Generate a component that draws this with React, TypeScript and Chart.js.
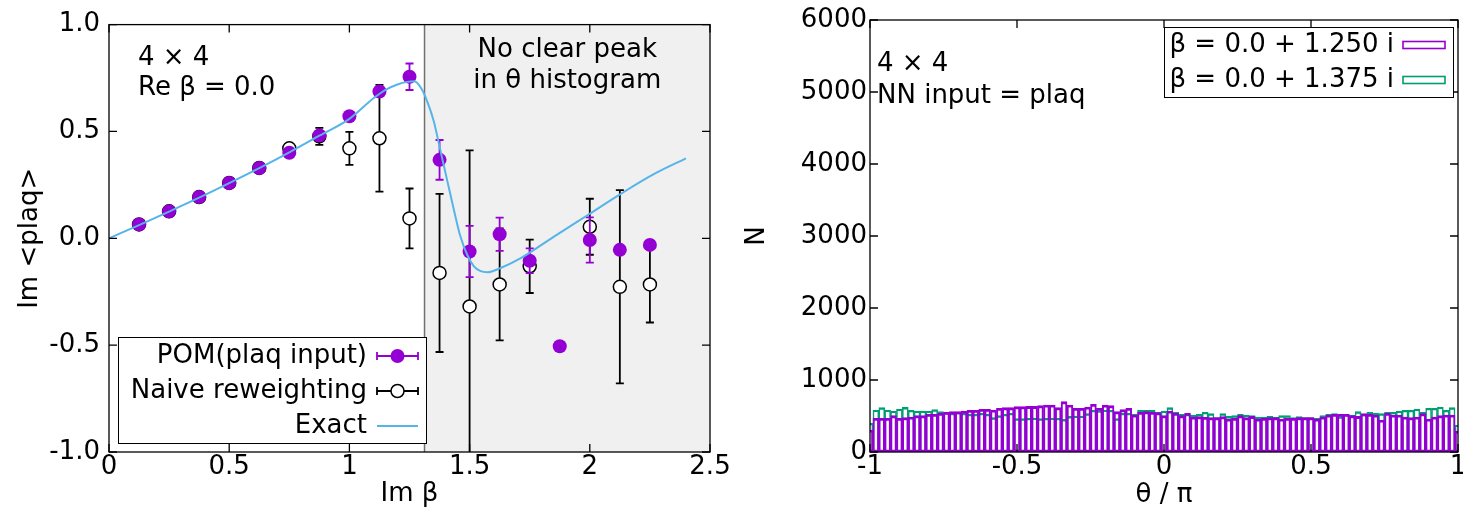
import React, { useEffect, useRef } from 'react';
import { Chart, registerables } from 'chart.js';

Chart.register(...registerables);

const FONT = '"DejaVu Sans", "Liberation Sans", sans-serif';
const FS = 26;
const PURPLE = '#9400d3';
const GREEN = '#009e73';
const BLUE = '#56b4e9';
const CANVAS_W = 1500;
const CANVAS_H = 516;

// ---------- left panel data ----------
const pomBeta = [0.125, 0.25, 0.375, 0.5, 0.625, 0.75, 0.875, 1.0, 1.125, 1.25, 1.375, 1.5, 1.625, 1.75, 1.875, 2.0, 2.125, 2.25];
const pomValues = [0.065, 0.126, 0.193, 0.259, 0.329, 0.4, 0.481, 0.571, 0.687, 0.756, 0.367, -0.062, 0.019, -0.105, -0.505, -0.008, -0.054, -0.031];
const pomErrors = [0, 0, 0, 0, 0, 0.008, 0.01, 0.01, 0.015, 0.062, 0.093, 0.12, 0.078, 0.058, 0, 0.106, 0, 0];

const naiveBeta = [0.125, 0.25, 0.375, 0.5, 0.625, 0.75, 0.875, 1.0, 1.125, 1.25, 1.375, 1.5, 1.625, 1.75, 2.0, 2.125, 2.25];
const naiveValues = [0.065, 0.126, 0.193, 0.259, 0.329, 0.421, 0.477, 0.421, 0.468, 0.093, -0.162, -0.319, -0.216, -0.131, 0.054, -0.227, -0.216];
const naiveErrors = [0.004, 0.004, 0.005, 0.005, 0.007, 0.012, 0.04, 0.077, 0.25, 0.14, 0.37, 0.73, 0.262, 0.125, 0.131, 0.452, 0.178];

const exactBeta = [0, 0.125, 0.25, 0.375, 0.5, 0.625, 0.75, 0.875, 1.0, 1.1, 1.15, 1.2, 1.24, 1.27, 1.3, 1.324, 1.351, 1.379, 1.407, 1.435, 1.462, 1.49, 1.518, 1.546, 1.574, 1.629, 1.713, 1.851, 1.99, 2.129, 2.268, 2.4];
const exactValues = [0, 0.062, 0.125, 0.19, 0.258, 0.328, 0.402, 0.48, 0.559, 0.655, 0.695, 0.72, 0.732, 0.735, 0.7, 0.64, 0.548, 0.409, 0.27, 0.131, 0.008, -0.077, -0.131, -0.154, -0.159, -0.139, -0.093, 0.008, 0.108, 0.208, 0.301, 0.374];

const noPeakStart = 1.3125;
const leftXTicks = ['0', '0.5', '1', '1.5', '2', '2.5'];
const leftLegend = ['POM(plaq input)', 'Naive reweighting', 'Exact'];
const leftNotes = ['4 \u00d7 4', 'Re \u03b2 = 0.0'];
const shadeNotes = ['No clear peak', 'in \u03b8 histogram'];
const leftXTitle = 'Im \u03b2';
const leftYTitle = 'Im <plaq>';

// ---------- right panel data ----------
const thetaBins = [
  -1, -0.98, -0.96, -0.94, -0.92, -0.9, -0.88, -0.86, -0.84, -0.82,
  -0.8, -0.78, -0.76, -0.74, -0.72, -0.7, -0.68, -0.66, -0.64, -0.62,
  -0.6, -0.58, -0.56, -0.54, -0.52, -0.5, -0.48, -0.46, -0.44, -0.42,
  -0.4, -0.38, -0.36, -0.34, -0.32, -0.3, -0.28, -0.26, -0.24, -0.22,
  -0.2, -0.18, -0.16, -0.14, -0.12, -0.1, -0.08, -0.06, -0.04, -0.02,
  0, 0.02, 0.04, 0.06, 0.08, 0.1, 0.12, 0.14, 0.16, 0.18,
  0.2, 0.22, 0.24, 0.26, 0.28, 0.3, 0.32, 0.34, 0.36, 0.38,
  0.4, 0.42, 0.44, 0.46, 0.48, 0.5, 0.52, 0.54, 0.56, 0.58,
  0.6, 0.62, 0.64, 0.66, 0.68, 0.7, 0.72, 0.74, 0.76, 0.78,
  0.8, 0.82, 0.84, 0.86, 0.88, 0.9, 0.92, 0.94, 0.96, 0.98,
  1,
];
const hist1250 = [
  306, 468, 468, 468, 505, 468, 477, 486, 505, 505,
  523, 523, 537, 551, 560, 560, 569, 579, 579, 593,
  593, 583, 607, 616, 616, 630, 630, 634, 634, 644,
  653, 653, 616, 699, 653, 607, 607, 625, 662, 607,
  653, 644, 560, 588, 607, 514, 551, 560, 551, 546,
  505, 569, 537, 505, 537, 486, 491, 482, 477, 477,
  491, 458, 468, 505, 477, 495, 458, 468, 477, 477,
  458, 468, 468, 477, 477, 477, 458, 486, 514, 523,
  523, 523, 505, 495, 532, 523, 514, 445, 537, 514,
  514, 486, 477, 486, 532, 458, 486, 505, 514, 514,
  292,
];
const hist1375 = [
  398, 583, 616, 583, 569, 597, 620, 579, 569, 569,
  569, 588, 560, 551, 537, 551, 537, 523, 523, 537,
  523, 477, 505, 523, 537, 463, 463, 468, 472, 463,
  468, 472, 468, 453, 495, 500, 500, 532, 579, 574,
  583, 579, 463, 537, 537, 523, 583, 579, 583, 551,
  569, 616, 551, 523, 523, 514, 523, 551, 532, 477,
  532, 495, 505, 523, 514, 505, 486, 486, 495, 486,
  505, 505, 477, 491, 477, 477, 468, 505, 523, 532,
  491, 523, 514, 560, 523, 551, 542, 532, 551, 551,
  569, 579, 579, 597, 551, 607, 607, 625, 579, 616,
  375,
];
const rightXTicks = ['-1', '-0.5', '0', '0.5', '1'];
const rightLegend = ['\u03b2 = 0.0 + 1.250 i', '\u03b2 = 0.0 + 1.375 i'];
const rightNotes = ['4 \u00d7 4', 'NN input = plaq'];
const rightXTitle = '\u03b8 / \u03c0';
const rightYTitle = 'N';

// ---------- helpers ----------
function drawText(ctx: CanvasRenderingContext2D, s: string, x: number, y: number, align: CanvasTextAlign = 'left', baseline: CanvasTextBaseline = 'alphabetic', rot = 0) {
  ctx.save();
  ctx.translate(x, y);
  if (rot) ctx.rotate(rot);
  ctx.font = `${FS}px ${FONT}`;
  ctx.fillStyle = '#000';
  ctx.textAlign = align;
  ctx.textBaseline = baseline;
  ctx.fillText(s, 0, 0);
  ctx.restore();
}

const frameTicksPlugin = {
  id: 'frameTicks',
  afterDatasetsDraw(chart: any) {
    const { ctx, chartArea: a, scales } = chart;
    const tl = 8;
    ctx.save();
    ctx.strokeStyle = '#000';
    ctx.lineWidth = 1.3;
    ctx.beginPath();
    for (const t of scales.x.ticks) {
      const px = scales.x.getPixelForValue(t.value);
      ctx.moveTo(px, a.bottom);
      ctx.lineTo(px, a.bottom - tl);
      ctx.moveTo(px, a.top);
      ctx.lineTo(px, a.top + tl);
    }
    for (const t of scales.y.ticks) {
      const py = scales.y.getPixelForValue(t.value);
      ctx.moveTo(a.left, py);
      ctx.lineTo(a.left + tl, py);
      ctx.moveTo(a.right, py);
      ctx.lineTo(a.right - tl, py);
    }
    ctx.stroke();
    ctx.strokeRect(a.left, a.top, a.right - a.left, a.bottom - a.top);
    ctx.restore();
  },
};

const shadePlugin = {
  id: 'shade',
  beforeDatasetsDraw(chart: any) {
    const { ctx, chartArea: a, scales } = chart;
    const x0 = scales.x.getPixelForValue(noPeakStart);
    ctx.save();
    ctx.fillStyle = '#f0f0f0';
    ctx.fillRect(x0, a.top, a.right - x0, a.bottom - a.top);
    ctx.strokeStyle = '#707070';
    ctx.lineWidth = 1.5;
    ctx.beginPath();
    ctx.moveTo(x0, a.top);
    ctx.lineTo(x0, a.bottom);
    ctx.stroke();
    ctx.restore();
  },
};

function drawErrorBar(ctx: CanvasRenderingContext2D, x: number, y1: number, y2: number, color: string) {
  const cap = 4;
  ctx.strokeStyle = color;
  ctx.lineWidth = 1.8;
  ctx.beginPath();
  ctx.moveTo(x, y1);
  ctx.lineTo(x, y2);
  ctx.moveTo(x - cap, y1);
  ctx.lineTo(x + cap, y1);
  ctx.moveTo(x - cap, y2);
  ctx.lineTo(x + cap, y2);
  ctx.stroke();
}

function drawErrorBarH(ctx: CanvasRenderingContext2D, x1: number, x2: number, y: number, color: string) {
  ctx.strokeStyle = color;
  ctx.lineWidth = 1.8;
  ctx.beginPath();
  ctx.moveTo(x1, y);
  ctx.lineTo(x2, y);
  ctx.moveTo(x1, y - 4);
  ctx.lineTo(x1, y + 4);
  ctx.moveTo(x2, y - 4);
  ctx.lineTo(x2, y + 4);
  ctx.stroke();
}

const errorBarPlugin = {
  id: 'errorBars',
  beforeDatasetDraw(chart: any, args: any) {
    const errs = args.index === 0 ? pomErrors : args.index === 1 ? naiveErrors : null;
    if (!errs) return;
    const color = args.index === 0 ? PURPLE : '#000';
    const { ctx, chartArea: a, scales } = chart;
    const ds = chart.data.datasets[args.index];
    ctx.save();
    ctx.beginPath();
    ctx.rect(a.left, a.top, a.right - a.left, a.bottom - a.top);
    ctx.clip();
    ds.data.forEach((p: any, i: number) => {
      const e = errs[i];
      if (!e || e < 0.02) return;
      const px = scales.x.getPixelForValue(p.x);
      drawErrorBar(ctx, px, scales.y.getPixelForValue(p.y + e), scales.y.getPixelForValue(p.y - e), color);
    });
    ctx.restore();
  },
};

const leftDecorPlugin = {
  id: 'leftDecor',
  afterDraw(chart: any) {
    const { ctx, chartArea: a, scales } = chart;
    drawText(ctx, leftNotes[0], a.left + 29, a.top + 40);
    drawText(ctx, leftNotes[1], a.left + 29, a.top + 70);
    const x0 = scales.x.getPixelForValue(noPeakStart);
    const cx = (x0 + a.right) / 2;
    drawText(ctx, shadeNotes[0], cx, a.top + 32, 'center');
    drawText(ctx, shadeNotes[1], cx, a.top + 63, 'center');
    const L = a.left + 9, T = a.bottom - 115, W = 308, Hh = 106;
    ctx.save();
    ctx.fillStyle = '#fff';
    ctx.fillRect(L, T, W, Hh);
    ctx.strokeStyle = '#000';
    ctx.lineWidth = 1;
    ctx.strokeRect(L + 0.5, T + 0.5, W, Hh);
    const rows = [T + 19, T + 54, T + 89];
    const tx = L + 249, x1 = L + 259, x2 = L + 300, xc = (x1 + x2) / 2;
    leftLegend.forEach((s, i) => drawText(ctx, s, tx, rows[i], 'right', 'middle'));
    drawErrorBarH(ctx, x1, x2, rows[0], PURPLE);
    ctx.fillStyle = PURPLE;
    ctx.beginPath();
    ctx.arc(xc, rows[0], 7, 0, Math.PI * 2);
    ctx.fill();
    drawErrorBarH(ctx, x1, x2, rows[1], '#000');
    ctx.fillStyle = '#fff';
    ctx.strokeStyle = '#000';
    ctx.lineWidth = 1.5;
    ctx.beginPath();
    ctx.arc(xc, rows[1], 6.5, 0, Math.PI * 2);
    ctx.fill();
    ctx.stroke();
    ctx.strokeStyle = BLUE;
    ctx.lineWidth = 2;
    ctx.beginPath();
    ctx.moveTo(x1, rows[2]);
    ctx.lineTo(x2, rows[2]);
    ctx.stroke();
    ctx.restore();
    drawText(ctx, leftXTitle, (a.left + a.right) / 2, 494, 'center', 'middle');
    drawText(ctx, leftYTitle, 30, (a.top + a.bottom) / 2, 'center', 'middle', -Math.PI / 2);
  },
};

const rightDecorPlugin = {
  id: 'rightDecor',
  afterDraw(chart: any) {
    const { ctx, chartArea: a } = chart;
    drawText(ctx, rightNotes[0], a.left + 7, a.top + 51);
    drawText(ctx, rightNotes[1], a.left + 7, a.top + 83);
    const L = a.right - 294, T = a.top + 7, W = 289, Hh = 70;
    ctx.save();
    ctx.fillStyle = '#fff';
    ctx.fillRect(L, T, W, Hh);
    ctx.strokeStyle = '#000';
    ctx.lineWidth = 1;
    ctx.strokeRect(L + 0.5, T + 0.5, W, Hh);
    const rows = [T + 18, T + 53];
    const colors = [PURPLE, GREEN];
    rightLegend.forEach((s, i) => {
      drawText(ctx, s, a.right - 64, rows[i], 'right', 'middle');
      ctx.strokeStyle = colors[i];
      ctx.lineWidth = 1.6;
      ctx.strokeRect(a.right - 55, rows[i] - 3.5, 42, 7);
    });
    ctx.restore();
    drawText(ctx, rightXTitle, (a.left + a.right) / 2, 495, 'center', 'middle');
    drawText(ctx, rightYTitle, 757, (a.top + a.bottom) / 2, 'center', 'middle', -Math.PI / 2);
  },
};

const tickFont = { family: FONT, size: FS };

export default function App() {
  const leftRef = useRef<HTMLCanvasElement>(null);
  const rightRef = useRef<HTMLCanvasElement>(null);

  useEffect(() => {
    Chart.defaults.font.family = FONT;
    Chart.defaults.color = '#000';

    const left = new Chart(leftRef.current as HTMLCanvasElement, {
      type: 'scatter',
      data: {
        datasets: [
          {
            label: leftLegend[0],
            data: pomBeta.map((x, i) => ({ x, y: pomValues[i] })),
            pointRadius: 7,
            pointBackgroundColor: PURPLE,
            pointBorderColor: PURPLE,
            pointBorderWidth: 0,
            order: 1,
          },
          {
            label: leftLegend[1],
            data: naiveBeta.map((x, i) => ({ x, y: naiveValues[i] })),
            pointRadius: 6.5,
            pointBackgroundColor: '#ffffff',
            pointBorderColor: '#000000',
            pointBorderWidth: 1.5,
            order: 2,
          },
          {
            label: leftLegend[2],
            data: exactBeta.map((x, i) => ({ x, y: exactValues[i] })),
            showLine: true,
            pointRadius: 0,
            borderColor: BLUE,
            borderWidth: 2,
            cubicInterpolationMode: 'monotone',
            order: 0,
          },
        ],
      } as any,
      options: {
        responsive: false,
        animation: false,
        devicePixelRatio: 1,
        events: [],
        layout: { padding: { left: 9, top: 20, right: CANVAS_W - 710, bottom: 0 } },
        plugins: { legend: { display: false }, tooltip: { enabled: false } },
        scales: {
          x: {
            type: 'linear',
            min: 0,
            max: 2.5,
            grid: { display: false, drawTicks: false },
            border: { display: false },
            ticks: {
              stepSize: 0.5,
              padding: 0,
              font: tickFont,
              color: '#000',
              maxRotation: 0,
              autoSkip: false,
              callback: (v: any, i: number) => leftXTicks[i] ?? String(v),
            },
            afterFit: (s: any) => { s.height = 64; },
          },
          y: {
            type: 'linear',
            min: -1,
            max: 1,
            grid: { display: false, drawTicks: false },
            border: { display: false },
            ticks: {
              stepSize: 0.5,
              padding: 9,
              font: tickFont,
              color: '#000',
              callback: (v: any) => Number(v).toFixed(1),
            },
            afterFit: (s: any) => { s.width = 100; },
          },
        },
      } as any,
      plugins: [shadePlugin, errorBarPlugin, frameTicksPlugin, leftDecorPlugin],
    });

    const barBase = {
      backgroundColor: 'rgba(0,0,0,0)',
      borderSkipped: false,
      grouped: false,
      barPercentage: 1,
      categoryPercentage: 1,
      clip: 0,
    };

    const right = new Chart(rightRef.current as HTMLCanvasElement, {
      type: 'bar',
      data: {
        datasets: [
          {
            ...barBase,
            label: rightLegend[0],
            data: thetaBins.map((x, i) => ({ x, y: hist1250[i] })),
            borderColor: PURPLE,
            borderWidth: { top: 2.2, bottom: 2, left: 1.35, right: 1.35 },
            order: 0,
          },
          {
            ...barBase,
            label: rightLegend[1],
            data: thetaBins.map((x, i) => ({ x, y: hist1375[i] })),
            borderColor: GREEN,
            borderWidth: { top: 1.7, bottom: 1.6, left: 0.9, right: 0.9 },
            order: 1,
          },
        ],
      } as any,
      options: {
        responsive: false,
        animation: false,
        devicePixelRatio: 1,
        events: [],
        layout: { padding: { left: 770, top: 20, right: CANVAS_W - 1458, bottom: 0 } },
        plugins: { legend: { display: false }, tooltip: { enabled: false } },
        scales: {
          x: {
            type: 'linear',
            min: -1,
            max: 1,
            offset: false,
            grid: { display: false, drawTicks: false, offset: false },
            border: { display: false },
            ticks: {
              stepSize: 0.5,
              padding: 0,
              font: tickFont,
              color: '#000',
              maxRotation: 0,
              autoSkip: false,
              callback: (v: any, i: number) => rightXTicks[i] ?? String(v),
            },
            afterFit: (s: any) => { s.height = 64; },
          },
          y: {
            type: 'linear',
            min: 0,
            max: 6000,
            grid: { display: false, drawTicks: false },
            border: { display: false },
            ticks: {
              stepSize: 1000,
              padding: 3,
              font: tickFont,
              color: '#000',
              callback: (v: any) => String(v),
            },
            afterFit: (s: any) => { s.width = 100; },
          },
        },
      } as any,
      plugins: [frameTicksPlugin, rightDecorPlugin],
    });

    return () => {
      left.destroy();
      right.destroy();
    };
  }, []);

  return (
    <div style={{ position: 'fixed', left: 0, top: 0, width: 1463, height: 516, overflow: 'hidden', background: '#fff' }}>
      <canvas ref={leftRef} width={CANVAS_W} height={CANVAS_H} style={{ position: 'absolute', left: 0, top: 0 }} />
      <canvas ref={rightRef} width={CANVAS_W} height={CANVAS_H} style={{ position: 'absolute', left: 0, top: 0 }} />
    </div>
  );
}
